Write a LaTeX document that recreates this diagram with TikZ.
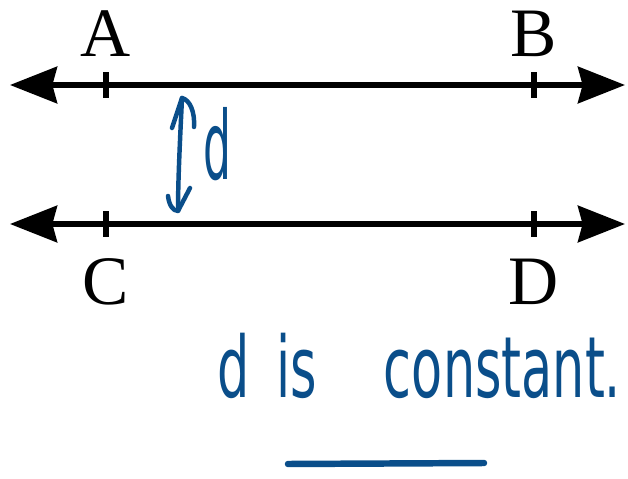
\documentclass[tikz,border=0pt]{standalone}
\usepackage{fontspec}
\usepackage{tikz}
\usetikzlibrary{arrows.meta, positioning}
\setmainfont{Liberation Serif}
\newfontfamily\handfont{DejaVu Sans}
\definecolor{inkblue}{RGB}{10,78,138}
\tikzset{line/.style={draw, line width=4.4pt,
      {Stealth[length=40pt,width=31pt,inset=4pt]}-{Stealth[length=40pt,width=31pt,inset=4pt]}},
    tickmark/.style={rectangle, fill=black, minimum width=4.5pt, minimum height=22pt, inner sep=0pt},
    pointlabel/.style={inner sep=0pt, font=\fontsize{59}{60}\selectfont},
    hand/.style={draw=inkblue, line width=3.8pt, line cap=round, line join=round},
    handtext/.style={inner sep=0pt, text=inkblue, font=\handfont\fontsize{72}{74}\selectfont}}

\begin{document}
\begin{tikzpicture}[x=0.85pt, y=-0.85pt]
  \useasboundingbox (0,0) rectangle (628,479);

  % the two parallel lines
  \coordinate (l1) at (10,85);
  \coordinate (r1) at (625,85);
  \coordinate (l2) at (10,224);
  \coordinate (r2) at (625,224);
  \draw[line] (l1) -- (r1);
  \draw[line] (l2) -- (r2);

  % points on the lines
  \node[tickmark] (ta) at (106,85) {};
  \node[tickmark] (tb) at (534,85) {};
  \node[tickmark] (tc) at (106,224) {};
  \node[tickmark] (td) at (534,224) {};
  \node[pointlabel, above=12.5pt of ta] (A) {A};
  \node[pointlabel, above=12.5pt of tb] (B) {B};
  \node[pointlabel, below=18pt of tc] (C) {C};
  \node[pointlabel, below=18pt of td] (D) {D};

  % distance between the lines
  \coordinate (dtop) at (182,98);
  \coordinate (dbot) at (178,211);
  \draw[hand] (172,128) -- (dtop) .. controls (190,100) and (195,112) .. (194,127);
  \draw[hand] (dtop) .. controls (180,140) and (178,180) .. (dbot);
  \draw[hand] (168,196) .. controls (169,205) and (173,211) .. (dbot) -- (190,188);
  \node[handtext, anchor=base west] (dist) at (203,180) {\scalebox{0.52}[1.12]{d}};

  % note
  \node[handtext, anchor=base west] (note) at (217,397)
    {\scalebox{0.6}[1]{d\hspace{38pt}is\hspace{95pt}constant.}};
  \draw[hand, line width=5.5pt] (288,464) -- (484,463);
\end{tikzpicture}
\end{document}
